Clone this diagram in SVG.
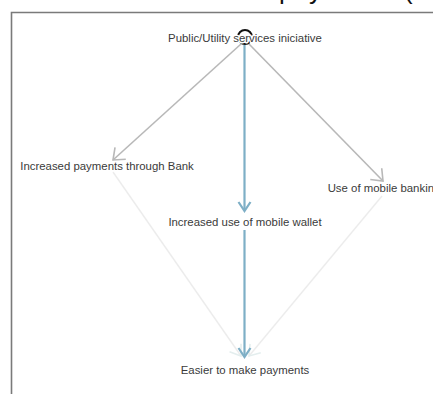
<svg xmlns="http://www.w3.org/2000/svg" width="433" height="394" viewBox="0 0 433 394">
<style>
.lbl{font-family:"Liberation Sans",Arial,sans-serif;font-size:11.4px;fill:#3a3a3a;text-anchor:middle;stroke:#fff;stroke-width:3px;paint-order:stroke;stroke-linejoin:round}
.gray{stroke:#b8b8b8;stroke-width:1.6;fill:none}
.blue{stroke:#7eafc6;stroke-width:2.2;fill:none}
.faint{stroke:#ececec;stroke-width:1.4;fill:none}
.frame{stroke:#7a7a7a;stroke-width:1.6;fill:none}
</style>
<defs>
<marker id="ag" viewBox="-12 -10 14 20" refX="0" refY="0" markerWidth="14" markerHeight="20" markerUnits="userSpaceOnUse" orient="auto">
<path d="M-10,-8 L0,0 L-10,8" fill="none" stroke="#b8b8b8" stroke-width="1.6"/>
</marker>
<marker id="ab" viewBox="-12 -10 14 20" refX="0" refY="0" markerWidth="14" markerHeight="20" markerUnits="userSpaceOnUse" orient="auto">
<path d="M-9,-6 L0,0 L-9,6" fill="none" stroke="#7eafc6" stroke-width="2.2"/>
</marker>
<marker id="af" viewBox="-12 -10 14 20" refX="0" refY="0" markerWidth="14" markerHeight="20" markerUnits="userSpaceOnUse" orient="auto">
<path d="M-10,-7 L0,0 L-10,7" fill="none" stroke="#e4eeee" stroke-width="1.6"/>
</marker>
</defs>
<rect width="433" height="394" fill="#fff"/>
<text font-family="Liberation Sans,Arial,sans-serif" font-size="26" fill="#111" y="-1"><tspan x="279">pa</tspan><tspan x="309">yment </tspan><tspan x="404">(</tspan></text>
<path class="frame" d="M11.5,394 V12.5 H433"/>
<g id="connectors">
<line class="faint" x1="113" y1="172" x2="241" y2="356" marker-end="url(#af)"/>
<line class="faint" x1="382" y1="196" x2="249" y2="356" marker-end="url(#af)"/>
<line class="gray" x1="241" y1="44" x2="113" y2="160" marker-end="url(#ag)"/>
<line class="gray" x1="249" y1="44" x2="383" y2="181" marker-end="url(#ag)"/>
<line class="blue" x1="244.5" y1="45" x2="244.5" y2="211" marker-end="url(#ab)"/>
<line class="blue" x1="244.5" y1="230" x2="244.5" y2="357" marker-end="url(#ab)"/>
</g>
<g id="n-public">
<circle cx="245" cy="37" r="7" fill="#fff" stroke="#111" stroke-width="2"/>
<text class="lbl" x="245" y="42">Public/Utility services iniciative</text>
</g>
<g id="n-bank">
<text class="lbl" x="107" y="170">Increased payments through Bank</text>
</g>
<g id="n-mobilebanking">
<text class="lbl" x="384" y="192">Use of mobile banking</text>
</g>
<g id="n-wallet">
<text class="lbl" x="245" y="226">Increased use of mobile wallet</text>
</g>
<g id="n-easier">
<text class="lbl" x="245" y="374">Easier to make payments</text>
</g>
</svg>
